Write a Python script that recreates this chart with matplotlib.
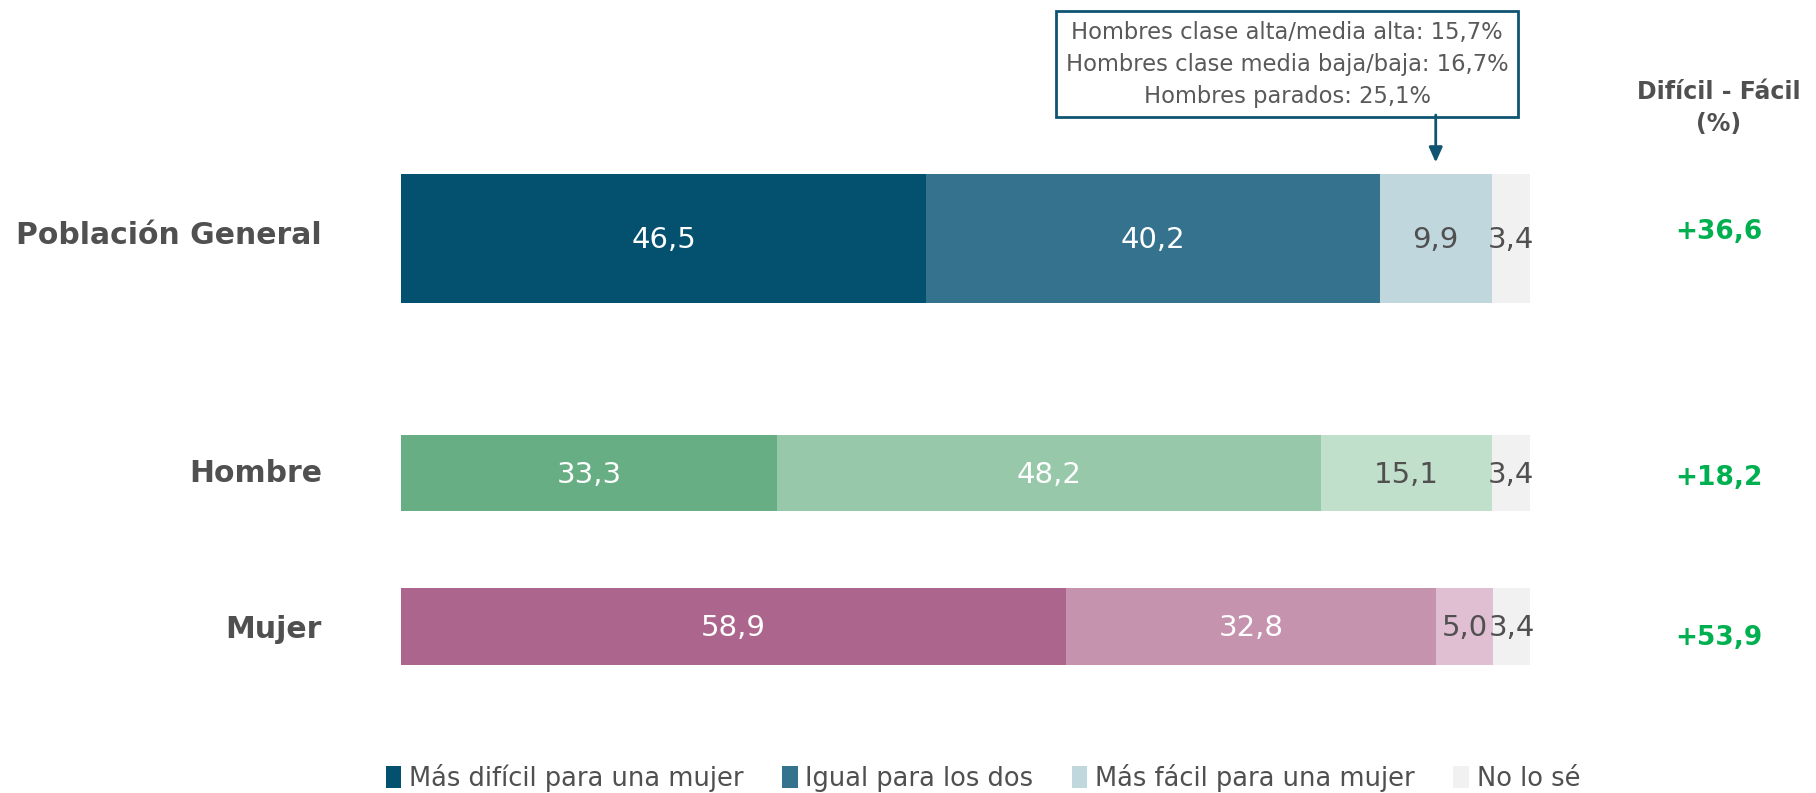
import matplotlib
matplotlib.use("Agg")
import matplotlib.pyplot as plt
import numpy as np
from matplotlib.patches import Patch

categories = ["Población General", "Hombre", "Mujer"]
series_names = ["Más difícil para una mujer", "Igual para los dos", "Más fácil para una mujer", "No lo sé"]
mas_dificil = [46.5, 33.3, 58.9]
igual = [40.2, 48.2, 32.8]
mas_facil = [9.9, 15.1, 5.0]
no_lo_se = [3.4, 3.4, 3.4]
diferencia = ["+36,6", "+18,2", "+53,9"]
nota_lines = ["Hombres clase alta/media alta: 15,7%",
              "Hombres clase media baja/baja: 16,7%",
              "Hombres parados: 25,1%"]

palettes = [
    ["#03506F", "#35728D", "#C1D7DE", "#F1F1F1"],
    ["#68AE84", "#97C8A9", "#C1E0CB", "#F1F1F1"],
    ["#AC668E", "#C693AF", "#E0BFD3", "#F1F1F1"],
]
text_colors = ["white", "white", "#505050", "#505050"]

W, H = 1816, 793
fig = plt.figure(figsize=(W / 100, H / 100), dpi=100)
fig.patch.set_facecolor("white")

# layout (pixels)
bar_left, bar_right = 401, 1530
y_centers = [238, 473, 626]
heights = [129, 76, 77]

ax = fig.add_axes([bar_left / W, 0, (bar_right - bar_left) / W, 1])
ax.set_xlim(0, 100)
ax.set_ylim(H, 0)
ax.axis("off")

data = np.array([mas_dificil, igual, mas_facil, no_lo_se])
font = "DejaVu Sans"
for i, cat in enumerate(categories):
    left = 0.0
    for j in range(4):
        v = data[j, i]
        ax.barh(y_centers[i], v, left=left, height=heights[i],
                color=palettes[i][j], edgecolor="none")
        ax.text(left + v / 2, y_centers[i] + 2, f"{v:.1f}".replace(".", ","),
                ha="center", va="center", fontsize=21, color=text_colors[j],
                family=font)
        left += v

# canvas axes for free text
cv = fig.add_axes([0, 0, 1, 1], zorder=-1)
cv.set_xlim(0, W)
cv.set_ylim(H, 0)
cv.axis("off")

label_y = [236, 474, 630]
for i, cat in enumerate(categories):
    cv.text(322, label_y[i], cat, ha="right", va="center", fontsize=21.5,
            fontweight="bold", color="#505050", family=font)

cv.text(1719, 108, "Difícil - Fácil\n(%)", ha="center", va="center",
        fontsize=17, fontweight="bold", color="#505050", family=font,
        linespacing=1.4)
diff_y = [232, 478, 638]
for i, d in enumerate(diferencia):
    cv.text(1719, diff_y[i], d, ha="center", va="center", fontsize=19,
            fontweight="bold", color="#00B050", family=font)

# annotation box (offset to the left of its arrow, as in the original)
cv.text(1287, 64, "\n".join(nota_lines), ha="center", va="center",
        fontsize=16.3, color="#595959", family=font, linespacing=1.5,
        bbox=dict(boxstyle="square,pad=0.42", fc="white", ec="#0F5572", lw=2))

# arrow pointing to "Más fácil" segment of Población General
x_arrow = mas_dificil[0] + igual[0] + mas_facil[0] / 2
ax.annotate("", xy=(x_arrow, y_centers[0] - heights[0] / 2 - 11),
            xytext=(x_arrow, 115), textcoords="data",
            arrowprops=dict(arrowstyle="-|>,head_length=0.9,head_width=0.4",
                            color="#0F5572", lw=2, shrinkA=0, shrinkB=0))

handles = [Patch(facecolor=palettes[0][j], edgecolor="none") for j in range(4)]
fig.legend(handles, series_names, loc="center", ncol=4, frameon=False,
           bbox_to_anchor=(983 / W, 1 - 778 / H),
           handlelength=0.6, handleheight=0.9, handletextpad=0.3,
           columnspacing=1.5, labelcolor="#505050",
           prop={"family": font, "size": 18.5})

fig.savefig("out.png", dpi=100)
